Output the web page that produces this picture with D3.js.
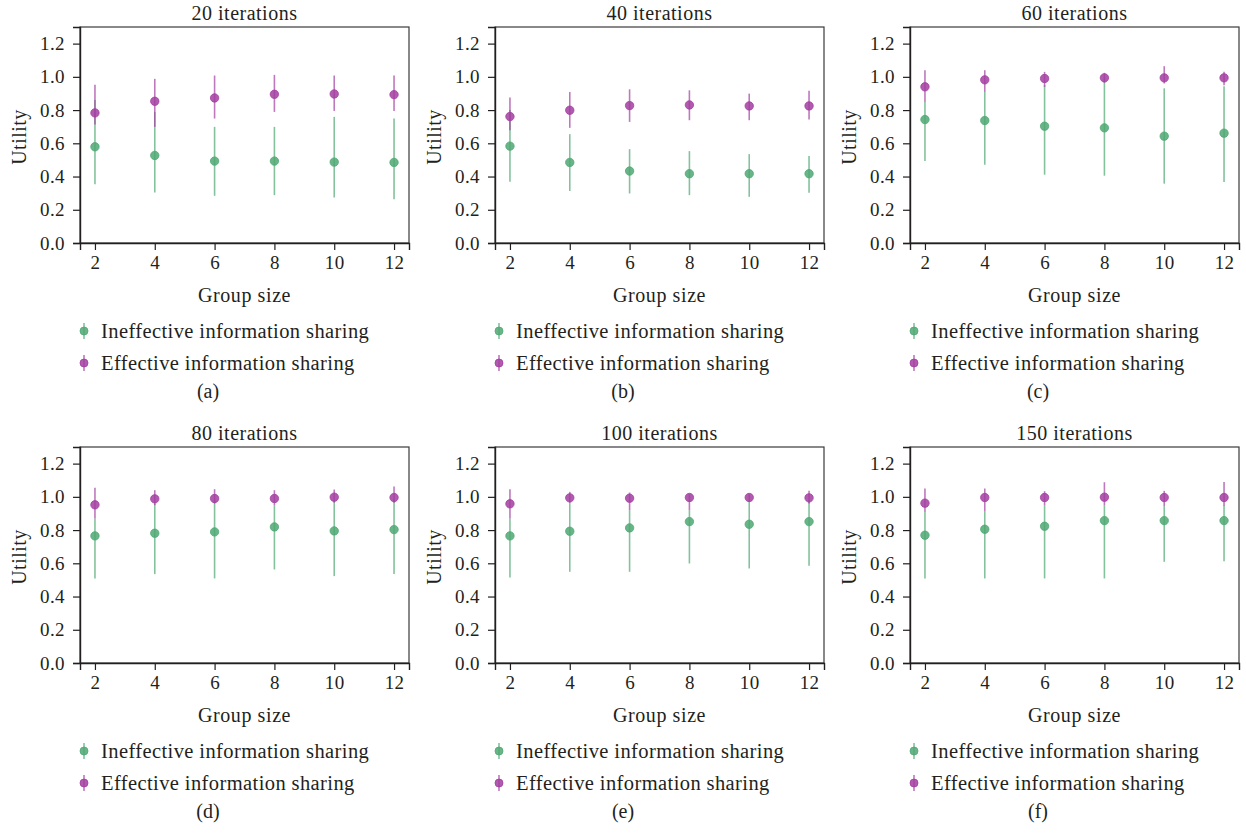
<!DOCTYPE html>
<html>
<head>
<meta charset="utf-8">
<script src="https://cdn.jsdelivr.net/npm/d3@7"></script>
<style>
  html, body { margin: 0; padding: 0; background: #fff; }
  svg { display: block; }
  text { font-family: "Liberation Serif", "DejaVu Serif", serif; fill: #231f20; }
</style>
</head>
<body>
<svg id="chart" width="1246" height="833"></svg>
<script>
const groupSizes = [2, 4, 6, 8, 10, 12];
const yTicks = [0.0, 0.2, 0.4, 0.6, 0.8, 1.0, 1.2];
const panelTitles = ["20 iterations", "40 iterations", "60 iterations", "80 iterations", "100 iterations", "150 iterations"];
const panelLabels = ["(a)", "(b)", "(c)", "(d)", "(e)", "(f)"];
const seriesNames = ["Ineffective information sharing", "Effective information sharing"];

// Ineffective information sharing (green)
const ineffMean = [
  [0.579, 0.527, 0.493, 0.493, 0.487, 0.485],
  [0.583, 0.485, 0.433, 0.417, 0.417, 0.417],
  [0.743, 0.737, 0.703, 0.693, 0.643, 0.661],
  [0.765, 0.781, 0.789, 0.819, 0.795, 0.803],
  [0.765, 0.793, 0.813, 0.851, 0.835, 0.851],
  [0.769, 0.805, 0.823, 0.857, 0.857, 0.857]
];
const ineffLow = [
  [0.353, 0.304, 0.284, 0.288, 0.274, 0.264],
  [0.369, 0.313, 0.298, 0.288, 0.278, 0.302],
  [0.493, 0.471, 0.411, 0.405, 0.357, 0.367],
  [0.509, 0.535, 0.509, 0.563, 0.523, 0.535],
  [0.515, 0.549, 0.549, 0.599, 0.569, 0.585],
  [0.509, 0.509, 0.509, 0.509, 0.609, 0.613]
];
const ineffHigh = [
  [0.860, 0.789, 0.699, 0.699, 0.759, 0.749],
  [0.800, 0.655, 0.565, 0.553, 0.535, 0.523],
  [0.849, 0.909, 0.950, 0.990, 0.931, 0.944],
  [0.869, 0.960, 0.980, 0.950, 0.980, 0.984],
  [0.869, 0.960, 0.919, 0.919, 0.970, 0.980],
  [0.909, 0.915, 0.950, 0.950, 0.944, 0.950]
];
// Effective information sharing (purple)
const effMean = [
  [0.783, 0.853, 0.873, 0.895, 0.897, 0.893],
  [0.761, 0.799, 0.827, 0.831, 0.825, 0.825],
  [0.940, 0.982, 0.990, 0.994, 0.994, 0.994],
  [0.952, 0.988, 0.990, 0.990, 0.998, 0.996],
  [0.958, 0.994, 0.992, 0.996, 0.996, 0.994],
  [0.962, 0.996, 0.996, 0.998, 0.996, 0.996]
];
const effLow = [
  [0.713, 0.699, 0.749, 0.789, 0.795, 0.795],
  [0.679, 0.693, 0.729, 0.739, 0.739, 0.743],
  [0.849, 0.909, 0.940, 0.965, 0.960, 0.950],
  [0.869, 0.950, 0.960, 0.950, 0.965, 0.965],
  [0.869, 0.960, 0.919, 0.919, 0.970, 0.960],
  [0.909, 0.915, 0.950, 0.950, 0.944, 0.946]
];
const effHigh = [
  [0.953, 0.988, 1.008, 1.012, 1.008, 1.008],
  [0.875, 0.909, 0.925, 0.919, 0.899, 0.917],
  [1.040, 1.040, 1.030, 1.024, 1.064, 1.030],
  [1.054, 1.040, 1.046, 1.040, 1.044, 1.062],
  [1.046, 1.030, 1.026, 1.016, 1.016, 1.036],
  [1.050, 1.050, 1.034, 1.088, 1.036, 1.090]
];

const colors = ["#4fa873", "#a33ea1"];

const svg = d3.select("#chart");
const colOffset = 415, rowOffset = 420;
const plotLeft = 80, plotRight = 409, plotTop = 27, plotBottom = 243;

const x = d3.scaleLinear().domain([1.5, 12.5]).range([plotLeft, plotRight]);
const y = d3.scaleLinear().domain([0, 1.3]).range([plotBottom, plotTop]);

panelTitles.forEach((title, p) => {
  const col = p % 3, row = Math.floor(p / 3);
  const g = svg.append("g").attr("transform", `translate(${col * colOffset},${row * rowOffset})`);

  // frame
  g.append("rect")
    .attr("x", plotLeft).attr("y", plotTop)
    .attr("width", plotRight - plotLeft).attr("height", plotBottom - plotTop)
    .attr("fill", "none").attr("stroke", "#3a3a3a").attr("stroke-width", 1.2);

  // axes
  const xAxis = g.append("g").attr("transform", `translate(0,${plotBottom})`)
    .call(d3.axisBottom(x).tickValues(groupSizes).tickSize(7).tickPadding(6).tickFormat(d3.format("d")));
  const yAxis = g.append("g").attr("transform", `translate(${plotLeft},0)`)
    .call(d3.axisLeft(y).tickValues(yTicks).tickSize(7).tickPadding(8).tickFormat(d3.format(".1f")));
  [xAxis, yAxis].forEach(a => {
    a.select(".domain").attr("stroke", "#231f20").attr("stroke-width", 1.4);
    a.selectAll(".tick line").attr("stroke", "#231f20").attr("stroke-width", 1.2);
    a.selectAll(".tick text").style("font-family", '"Liberation Serif", serif')
      .style("font-size", "19px").style("letter-spacing", "0.4px").attr("fill", "#231f20");
  });

  // title
  g.append("text").attr("x", (plotLeft + plotRight) / 2).attr("y", 20)
    .attr("text-anchor", "middle").style("font-size", "20px").style("letter-spacing", "0.5px").text(title);

  // axis labels
  g.append("text").attr("x", (plotLeft + plotRight) / 2).attr("y", 302)
    .attr("text-anchor", "middle").style("font-size", "20px").style("letter-spacing", "0.6px").text("Group size");
  g.append("text").attr("transform", `translate(26,${(plotTop + plotBottom) / 2 + 2}) rotate(-90)`)
    .attr("text-anchor", "middle").style("font-size", "20px").style("letter-spacing", "0.5px").text("Utility");

  // series
  const series = [
    { mean: ineffMean[p], low: ineffLow[p], high: ineffHigh[p], color: colors[0] },
    { mean: effMean[p], low: effLow[p], high: effHigh[p], color: colors[1] }
  ];
  series.forEach(s => {
    const sg = g.append("g");
    sg.selectAll("line.err").data(groupSizes).join("line")
      .attr("class", "err")
      .attr("x1", d => x(d)).attr("x2", d => x(d))
      .attr("y1", (d, i) => y(s.low[i])).attr("y2", (d, i) => y(s.high[i]))
      .attr("stroke", s.color).attr("stroke-width", 1.6).attr("stroke-opacity", 0.7);
    sg.selectAll("circle").data(groupSizes).join("circle")
      .attr("cx", d => x(d)).attr("cy", (d, i) => y(s.mean[i])).attr("r", 4.2)
      .attr("fill", s.color).attr("fill-opacity", 0.85)
      .attr("stroke", s.color).attr("stroke-width", 0.8);
  });

  // legend
  seriesNames.forEach((name, k) => {
    const ly = 331 + k * 32;
    const lg = g.append("g");
    lg.append("line").attr("x1", 84).attr("x2", 84).attr("y1", ly - 8).attr("y2", ly + 8)
      .attr("stroke", colors[k]).attr("stroke-width", 1.6).attr("stroke-opacity", 0.7);
    lg.append("circle").attr("cx", 84).attr("cy", ly).attr("r", 4)
      .attr("fill", colors[k]).attr("fill-opacity", 0.85).attr("stroke", colors[k]).attr("stroke-width", 0.8);
    lg.append("text").attr("x", 101).attr("y", ly + 6.5)
      .style("font-size", "20.5px").style("letter-spacing", "0.4px").text(name);
  });

  // panel label
  g.append("text").attr("x", 208).attr("y", 398).attr("text-anchor", "middle")
    .style("font-size", "20px").text(panelLabels[p]);
});
</script>
</body>
</html>
